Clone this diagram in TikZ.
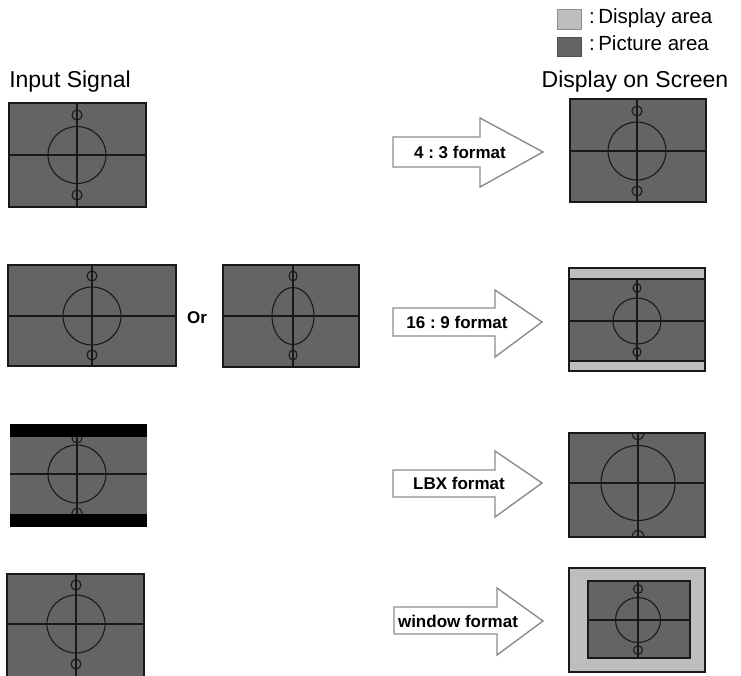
\documentclass[tikz,border=0pt]{standalone}
\usepackage{fontspec}
\setmainfont{Liberation Sans}
\frenchspacing
\definecolor{picgray}{RGB}{100,100,100}
\definecolor{dispgray}{RGB}{190,190,190}
\definecolor{linecol}{RGB}{25,25,25}
\definecolor{arrowcol}{RGB}{140,140,140}
\tikzset{
  picarea/.style={fill=picgray},
  disparea/.style={fill=dispgray},
  frame/.style={draw=linecol,line width=1.6pt},
  ln/.style={draw=linecol,line width=1.1pt},
  arrowshape/.style={draw=arrowcol,fill=white,line width=1.4pt,line join=miter},
  fmtlabel/.style={font=\fontsize{17}{18}\selectfont\bfseries,inner sep=0pt},
  header/.style={font=\fontsize{23}{26}\selectfont,inner sep=0pt,anchor=base},
  legendtext/.style={font=\fontsize{20.5}{22}\selectfont,inner sep=0pt,anchor=base west},
}
\begin{document}
\begin{tikzpicture}[x=1pt,y=-1pt]
\useasboundingbox (0,0) rectangle (741,675);

% headers and legend
\node[header] (insig) at (70,87) {Input Signal};
\node[header] (dscreen) at (635,87) {Display on Screen};
\draw[disparea,draw=arrowcol,line width=1pt] (557,9) rectangle (581,29);
\draw[picarea,draw=picgray!80!black,line width=1pt] (557,37) rectangle (581,56);
\node[legendtext] (lg1) at (589,23) {:\,Display area};
\node[legendtext] (lg2) at (589,50) {:\,Picture area};

% ---------- Row 1 input
\fill[picarea] (9,103) rectangle (146,207);
\begin{scope}
\clip (9,103) rectangle (146,207);
\draw[ln] (9,155) -- (146,155);
\draw[ln] (77,103) -- (77,207);
\draw[ln] (77,155) ellipse[x radius=29pt,y radius=28.5pt];
\draw[ln] (77,115) ellipse[x radius=5pt,y radius=5pt];
\draw[ln] (77,195) ellipse[x radius=5pt,y radius=5pt];
\end{scope}
\draw[frame] (9,103) rectangle (146,207);

% ---------- Row 1 arrow
\draw[arrowshape] (393,137) -- (480,137) -- (480,118) -- (543,152) -- (480,187) -- (480,167) -- (393,167) -- cycle;
\node[fmtlabel] (f1) at (460,152) {4 : 3 format};

% ---------- Row 1 output
\fill[picarea] (570,99) rectangle (706,202);
\begin{scope}
\clip (570,99) rectangle (706,202);
\draw[ln] (570,151) -- (706,151);
\draw[ln] (637,99) -- (637,202);
\draw[ln] (637,151) ellipse[x radius=29pt,y radius=29pt];
\draw[ln] (637,111) ellipse[x radius=5pt,y radius=5pt];
\draw[ln] (637,191) ellipse[x radius=5pt,y radius=5pt];
\end{scope}
\draw[frame] (570,99) rectangle (706,202);

% ---------- Row 2 input 1
\fill[picarea] (8,265) rectangle (176,366);
\begin{scope}
\clip (8,265) rectangle (176,366);
\draw[ln] (8,316) -- (176,316);
\draw[ln] (92,265) -- (92,366);
\draw[ln] (92,316) ellipse[x radius=29pt,y radius=29pt];
\draw[ln] (92,276) ellipse[x radius=5pt,y radius=5pt];
\draw[ln] (92,355) ellipse[x radius=5pt,y radius=5pt];
\end{scope}
\draw[frame] (8,265) rectangle (176,366);

\node[fmtlabel] (or) at (197,318) {Or};

% ---------- Row 2 input 2
\fill[picarea] (223,265) rectangle (359,367);
\begin{scope}
\clip (223,265) rectangle (359,367);
\draw[ln] (223,316) -- (359,316);
\draw[ln] (293,265) -- (293,367);
\draw[ln] (293,316) ellipse[x radius=21pt,y radius=28.5pt];
\draw[ln] (293,276) ellipse[x radius=4pt,y radius=5pt];
\draw[ln] (293,355) ellipse[x radius=4pt,y radius=5pt];
\end{scope}
\draw[frame] (223,265) rectangle (359,367);

% ---------- Row 2 arrow
\draw[arrowshape] (393,308) -- (495,308) -- (495,290) -- (542,322) -- (495,357) -- (495,336) -- (393,336) -- cycle;
\node[fmtlabel] (f2) at (457,322) {16 : 9 format};

% ---------- Row 2 output
\fill[disparea] (569,268) rectangle (705,371);
\fill[picarea] (569,279) rectangle (705,361);
\begin{scope}
\clip (569,279) rectangle (705,361);
\draw[ln] (569,321) -- (705,321);
\draw[ln] (637,279) -- (637,361);
\draw[ln] (637,321) ellipse[x radius=24pt,y radius=23pt];
\draw[ln] (637,288) ellipse[x radius=4pt,y radius=4.5pt];
\draw[ln] (637,352) ellipse[x radius=4pt,y radius=4.5pt];
\end{scope}
\draw[frame] (569,279) rectangle (705,361);
\draw[frame] (569,268) rectangle (705,371);

% ---------- Row 3 input
\fill[picarea] (10,424) rectangle (147,527);
\begin{scope}
\clip (10,424) rectangle (147,527);
\draw[ln] (10,474) -- (147,474);
\draw[ln] (77,424) -- (77,527);
\draw[ln] (77,474) ellipse[x radius=29pt,y radius=29pt];
\draw[ln] (77,438) ellipse[x radius=5pt,y radius=5pt];
\draw[ln] (77,513) ellipse[x radius=5pt,y radius=5pt];
\end{scope}
\fill[black] (10,424) rectangle (147,437);
\fill[black] (10,514) rectangle (147,527);

% ---------- Row 3 arrow
\draw[arrowshape] (393,470) -- (495,470) -- (495,451) -- (542,483) -- (495,517) -- (495,497) -- (393,497) -- cycle;
\node[fmtlabel] (f3) at (459,483) {LBX format};

% ---------- Row 3 output
\fill[picarea] (569,433) rectangle (705,537);
\begin{scope}
\clip (569,433) rectangle (705,537);
\draw[ln] (569,483) -- (705,483);
\draw[ln] (638,433) -- (638,537);
\draw[ln] (638,483) ellipse[x radius=37pt,y radius=37.5pt];
\draw[ln] (638,433) ellipse[x radius=6pt,y radius=6.5pt];
\draw[ln] (638,537) ellipse[x radius=6pt,y radius=6.5pt];
\end{scope}
\draw[frame] (569,433) rectangle (705,537);

% ---------- Row 4 input
\fill[picarea] (7,574) rectangle (144,680);
\begin{scope}
\clip (7,574) rectangle (144,680);
\draw[ln] (7,624) -- (144,624);
\draw[ln] (76,574) -- (76,680);
\draw[ln] (76,624) ellipse[x radius=29pt,y radius=29pt];
\draw[ln] (76,585) ellipse[x radius=5pt,y radius=5pt];
\draw[ln] (76,664) ellipse[x radius=5pt,y radius=5pt];
\end{scope}
\draw[frame] (7,680) -- (7,574) -- (144,574) -- (144,680);

% ---------- Row 4 arrow
\draw[arrowshape] (394,607) -- (497,607) -- (497,588) -- (543,621) -- (497,655) -- (497,634) -- (394,634) -- cycle;
\node[fmtlabel] (f4) at (458,621) {window format};

% ---------- Row 4 output
\fill[disparea] (569,568) rectangle (705,672);
\fill[picarea] (588,581) rectangle (690,658);
\begin{scope}
\clip (588,581) rectangle (690,658);
\draw[ln] (588,620) -- (690,620);
\draw[ln] (638,581) -- (638,658);
\draw[ln] (638,620) ellipse[x radius=22.5pt,y radius=22.5pt];
\draw[ln] (638,589) ellipse[x radius=4.5pt,y radius=4.5pt];
\draw[ln] (638,650) ellipse[x radius=4.5pt,y radius=4.5pt];
\end{scope}
\draw[frame] (588,581) rectangle (690,658);
\draw[frame,line width=1.3pt] (569,568) rectangle (705,672);
\end{tikzpicture}
\end{document}
